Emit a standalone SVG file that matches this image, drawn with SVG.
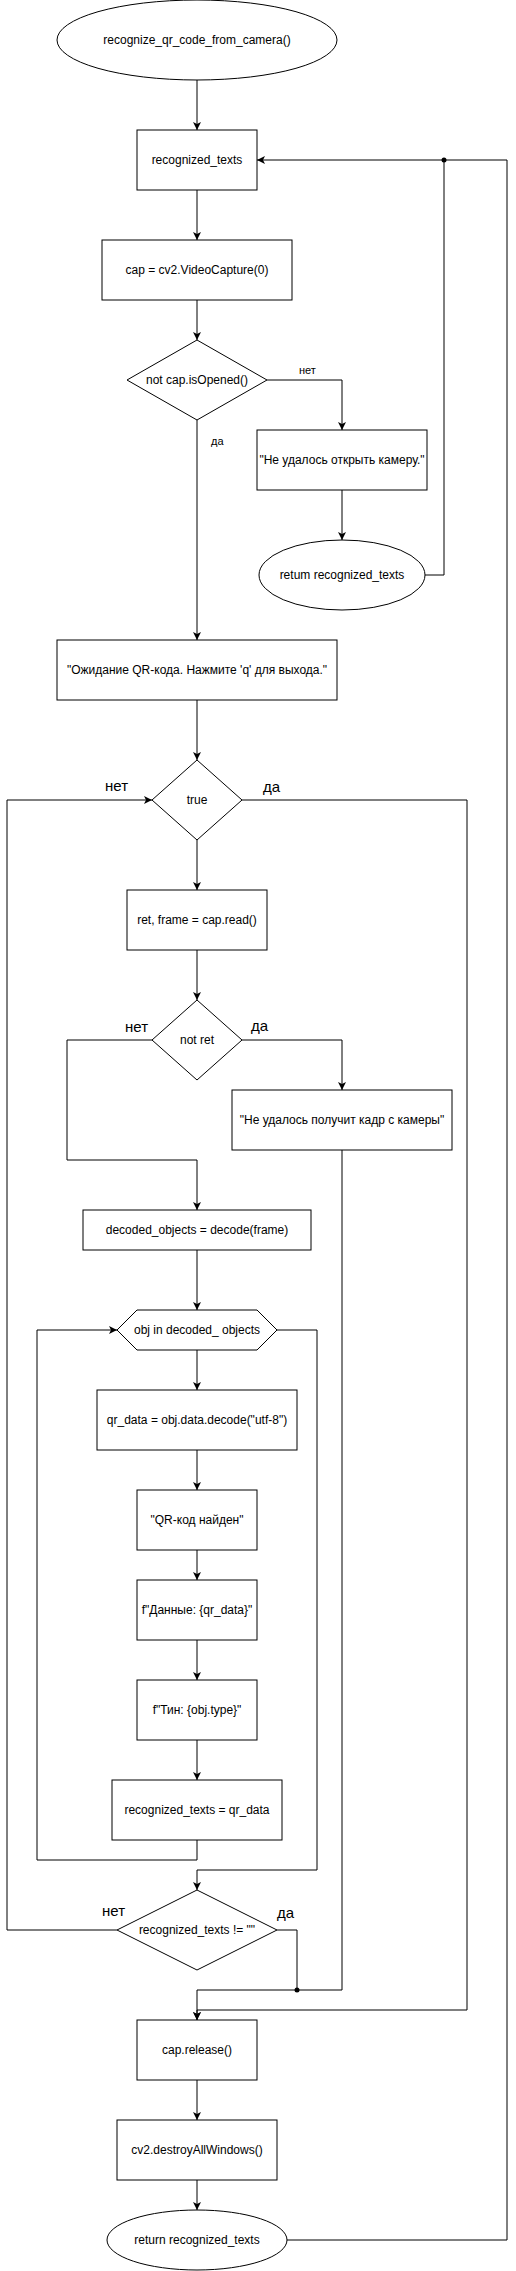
<svg xmlns="http://www.w3.org/2000/svg" width="516" height="2271" viewBox="0 0 516 2271">
<style>
.n{fill:#fff;stroke:#000;stroke-width:1}
.t{font-family:"Liberation Sans",Arial,sans-serif;font-size:12px;fill:#000;text-anchor:middle}
.ls{font-family:"Liberation Sans",Arial,sans-serif;font-size:11px;fill:#000}
.lb{font-family:"Liberation Sans",Arial,sans-serif;font-size:15px;fill:#000}
.c{fill:none;stroke:#000;stroke-width:1}
.a{marker-end:url(#arr)}
</style>
<defs>
<marker id="arr" markerUnits="userSpaceOnUse" markerWidth="10" markerHeight="10" refX="8" refY="4" orient="auto">
<path d="M0,0 L8,4 L0,8 L2,4 z" fill="#000"/>
</marker>
</defs>
<rect width="516" height="2271" fill="#fff"/>
<g id="connectors">
<path class="c a" d="M197,80 V130"/>
<path class="c a" d="M197,190 V240"/>
<path class="c a" d="M197,300 V340"/>
<path class="c a" d="M267,380 H342 V430"/>
<path class="c a" d="M342,490 V540"/>
<path class="c" d="M425,575 H444 V160"/>
<path class="c a" d="M287,2240 H507 V160 H257"/>
<circle cx="444" cy="160" r="2.5" fill="#000"/>
<path class="c a" d="M197,420 V640"/>
<path class="c a" d="M197,700 V760"/>
<path class="c a" d="M197,840 V890"/>
<path class="c a" d="M197,950 V1000"/>
<path class="c a" d="M242,1040 H342 V1090"/>
<path class="c a" d="M152,1040 H67 V1160 H197 V1210"/>
<path class="c a" d="M197,1250 V1310"/>
<path class="c a" d="M197,1350 V1390"/>
<path class="c a" d="M197,1450 V1490"/>
<path class="c a" d="M197,1550 V1580"/>
<path class="c a" d="M197,1640 V1680"/>
<path class="c a" d="M197,1740 V1780"/>
<path class="c a" d="M197,1840 V1860 H37 V1330 H117"/>
<path class="c a" d="M277,1330 H317 V1870 H197 V1890"/>
<path class="c a" d="M117,1930 H7 V800 H152"/>
<path class="c" d="M277,1930 H297 V1990"/>
<circle cx="297" cy="1990" r="2.5" fill="#000"/>
<path class="c a" d="M342,1150 V1990 H197 V2020"/>
<path class="c a" d="M242,800 H467 V2010 H197 V2020"/>
<path class="c a" d="M197,2080 V2120"/>
<path class="c a" d="M197,2180 V2210"/>
<text class="ls" x="299" y="374">нет</text>
<text class="ls" x="211" y="445">да</text>
<text class="lb" x="105" y="791">нет</text>
<text class="lb" x="263" y="792">да</text>
<text class="lb" x="125" y="1032">нет</text>
<text class="lb" x="251" y="1031">да</text>
<text class="lb" x="102" y="1916">нет</text>
<text class="lb" x="277" y="1918">да</text>
</g>
<g id="start"><ellipse class="n" cx="197" cy="40" rx="140" ry="40"/><text class="t" x="197" y="44">recognize_qr_code_from_camera()</text></g>
<g id="init"><rect class="n" x="137" y="130" width="120" height="60"/><text class="t" x="197" y="164">recognized_texts</text></g>
<g id="cap"><rect class="n" x="102" y="240" width="190" height="60"/><text class="t" x="197" y="274">cap = cv2.VideoCapture(0)</text></g>
<g id="isopened"><polygon class="n" points="197,340 267,380 197,420 127,380"/><text class="t" x="197" y="384">not cap.isOpened()</text></g>
<g id="err1"><rect class="n" x="257" y="430" width="170" height="60"/><text class="t" x="342" y="464">"Не удалось открыть камеру."</text></g>
<g id="ret1"><ellipse class="n" cx="342" cy="575" rx="83" ry="35"/><text class="t" x="342" y="579">retum recognized_texts</text></g>
<g id="wait"><rect class="n" x="57" y="640" width="280" height="60"/><text class="t" x="197" y="674">"Ожидание QR-кода. Нажмите 'q' для выхода."</text></g>
<g id="loop"><polygon class="n" points="197,760 242,800 197,840 152,800"/><text class="t" x="197" y="804">true</text></g>
<g id="read"><rect class="n" x="127" y="890" width="140" height="60"/><text class="t" x="197" y="924">ret, frame = cap.read()</text></g>
<g id="notret"><polygon class="n" points="197,1000 242,1040 197,1080 152,1040"/><text class="t" x="197" y="1044">not ret</text></g>
<g id="err2"><rect class="n" x="232" y="1090" width="220" height="60"/><text class="t" x="342" y="1124">"Не удалось получит кадр с камеры"</text></g>
<g id="decode"><rect class="n" x="83" y="1210" width="228" height="40"/><text class="t" x="197" y="1234">decoded_objects = decode(frame)</text></g>
<g id="forobj"><polygon class="n" points="117,1330 137,1310 257,1310 277,1330 257,1350 137,1350"/><text class="t" x="197" y="1334">obj in decoded_ objects</text></g>
<g id="qrdata"><rect class="n" x="97" y="1390" width="200" height="60"/><text class="t" x="197" y="1424">qr_data = obj.data.decode("utf-8")</text></g>
<g id="found"><rect class="n" x="137" y="1490" width="120" height="60"/><text class="t" x="197" y="1524">"QR-код найден"</text></g>
<g id="data"><rect class="n" x="137" y="1580" width="120" height="60"/><text class="t" x="197" y="1614">f"Данные: {qr_data}"</text></g>
<g id="type"><rect class="n" x="137" y="1680" width="120" height="60"/><text class="t" x="197" y="1714">f"Тин: {obj.type}"</text></g>
<g id="assign"><rect class="n" x="112" y="1780" width="170" height="60"/><text class="t" x="197" y="1814">recognized_texts = qr_data</text></g>
<g id="check"><polygon class="n" points="197,1890 277,1930 197,1970 117,1930"/><text class="t" x="197" y="1934">recognized_texts != ""</text></g>
<g id="release"><rect class="n" x="137" y="2020" width="120" height="60"/><text class="t" x="197" y="2054">cap.release()</text></g>
<g id="destroy"><rect class="n" x="117" y="2120" width="160" height="60"/><text class="t" x="197" y="2154">cv2.destroyAllWindows()</text></g>
<g id="ret2"><ellipse class="n" cx="197" cy="2240" rx="90" ry="30"/><text class="t" x="197" y="2244">return recognized_texts</text></g>
</svg>
